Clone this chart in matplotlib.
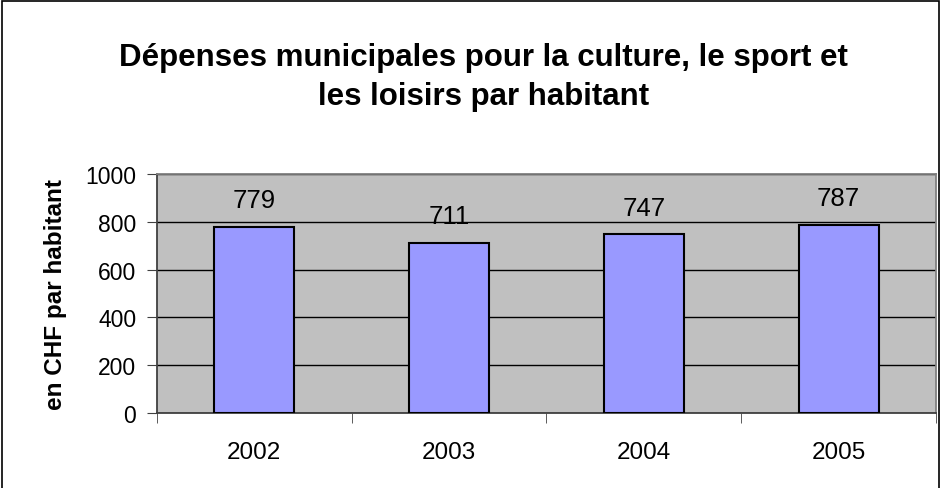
import matplotlib
matplotlib.use("Agg")
import matplotlib.pyplot as plt
from matplotlib.patches import Rectangle

plt.rcParams['font.family'] = ['Liberation Sans', 'DejaVu Sans']

# Data
years = ['2002', '2003', '2004', '2005']
values = [779, 711, 747, 787]
y_ticks = [0, 200, 400, 600, 800, 1000]

fig = plt.figure(figsize=(9.41, 4.89), dpi=100)
ax = fig.add_axes([0.1668, 0.1534, 0.8279, 0.4888])

ax.set_facecolor('#C0C0C0')
x = list(range(len(years)))
ax.bar(x, values, width=0.41, color='#9999FF', edgecolor='black', linewidth=1.5, zorder=3)
for xi, v in zip(x, values):
    ax.text(xi, v + 112, str(v), ha='center', va='center', fontsize=18.5, zorder=4)

ax.set_xlim(-0.5, len(years) - 0.5)
ax.set_ylim(0, 1000)
ax.set_yticks(y_ticks)
ax.set_yticklabels([str(t) for t in y_ticks], fontsize=16.5)
ax.yaxis.grid(True, color='black', linewidth=1)
ax.set_axisbelow(True)

# category labels without ticks, ticks at boundaries
ax.set_xticks(x)
ax.set_xticklabels(years, fontsize=17.5)
ax.tick_params(axis='x', length=0, pad=20)
ax.set_xticks([i - 0.5 for i in range(len(years) + 1)], minor=True)
ax.tick_params(axis='x', which='minor', length=7, direction='out', color='#404040')
ax.tick_params(axis='y', length=7, direction='out', color='#404040', pad=8)

for side in ['top', 'right']:
    ax.spines[side].set_color('#808080')
for side in ['left', 'bottom']:
    ax.spines[side].set_color('#404040')
for s in ax.spines.values():
    s.set_linewidth(1.3)

ax.set_ylabel('en CHF par habitant', fontsize=17.5, fontweight='bold', labelpad=13)

fig.text(0.514, 0.841, 'Dépenses municipales pour la culture, le sport et\nles loisirs par habitant',
         ha='center', va='center', fontsize=22.5, fontweight='bold', linespacing=1.38)

# outer chart border
fig.patches.append(Rectangle((0.002, -0.01), 0.996, 1.006, transform=fig.transFigure,
                             fill=False, edgecolor='black', linewidth=1.2))

fig.savefig('out.png', dpi=100)
